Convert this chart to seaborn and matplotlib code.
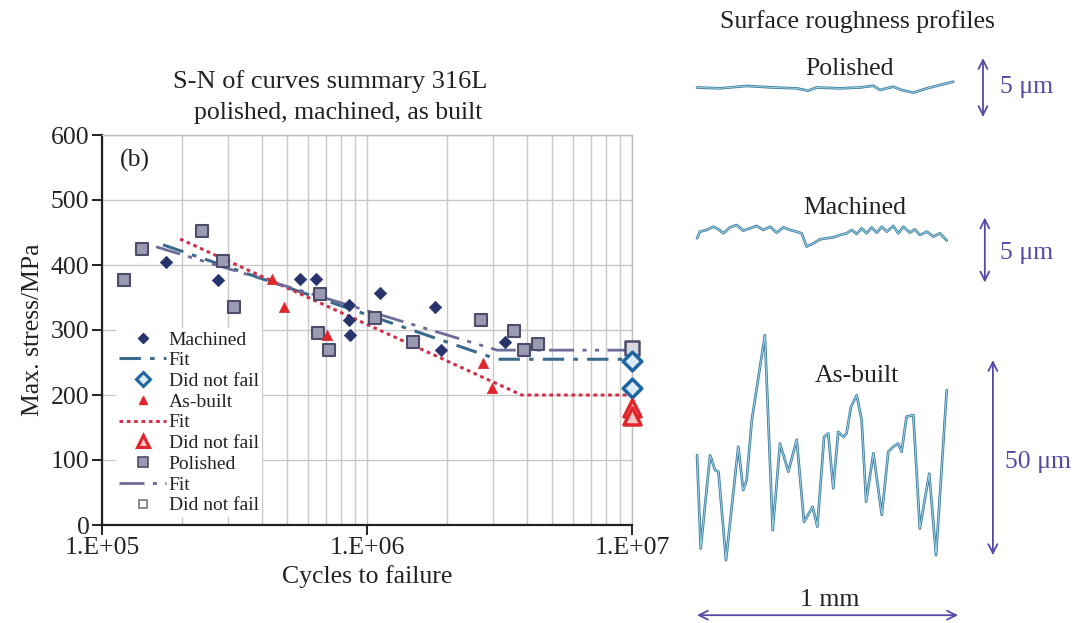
import numpy as np
import pandas as pd
import matplotlib
matplotlib.use("Agg")
import matplotlib.pyplot as plt
from matplotlib.ticker import LogLocator, FuncFormatter, MultipleLocator
from matplotlib.lines import Line2D
import seaborn as sns

# ---------------- S-N data (cycles, MPa) ----------------
machined_N = [1.75e5, 2.75e5, 5.57e5, 6.41e5, 8.55e5, 8.55e5, 8.6e5, 1.12e6, 1.81e6, 1.90e6, 3.33e6]
machined_S = [405, 377, 379, 379, 339, 316, 293, 357, 336, 270, 282]
machined_dnf_N = [1.0e7, 1.0e7]
machined_dnf_S = [252, 211]

asbuilt_N = [4.37e5, 4.85e5, 7.05e5, 2.75e6, 2.95e6]
asbuilt_S = [379, 336, 293, 250, 211]
asbuilt_dnf_N = [1.0e7, 1.0e7]
asbuilt_dnf_S = [180, 168]

polished_N = [1.21e5, 1.42e5, 2.39e5, 2.85e5, 3.16e5, 6.52e5, 6.64e5, 7.18e5,
              1.07e6, 1.49e6, 2.70e6, 3.60e6, 3.90e6, 4.40e6]
polished_S = [377, 424, 452, 406, 336, 295, 356, 269, 318, 282, 316, 298, 269, 278]
polished_dnf_N = [1.0e7]
polished_dnf_S = [272]

# fitted curves (knee + endurance plateau)
machined_fit_N = [1.7e5, 3.1e6, 1.0e7]
machined_fit_S = [431, 255, 255]
asbuilt_fit_N = [1.97e5, 3.83e6, 1.0e7]
asbuilt_fit_S = [440, 200, 200]
polished_fit_N = [1.6e5, 3.1e6, 1.0e7]
polished_fit_S = [428, 269, 269]

# ---------------- roughness profiles (mm, um) ----------------
pol_x = [0.0, 0.088, 0.19, 0.292, 0.382, 0.426, 0.458, 0.548, 0.625, 0.676,
         0.701, 0.752, 0.784, 0.829, 0.881, 0.931, 0.982]
pol_h = [0.0, -0.07, 0.13, 0.0, -0.07, -0.27, 0.0, -0.07, 0.0, 0.15,
         -0.21, 0.07, -0.21, -0.44, -0.07, 0.21, 0.49]

mach_x = [0.0, 0.011, 0.037, 0.063, 0.082, 0.101, 0.126, 0.152, 0.177, 0.203,
          0.229, 0.254, 0.28, 0.305, 0.331, 0.356, 0.382, 0.401, 0.42, 0.446,
          0.471, 0.497, 0.522, 0.548, 0.573, 0.593, 0.612, 0.631, 0.65, 0.669,
          0.689, 0.708, 0.727, 0.752, 0.771, 0.791, 0.816, 0.835, 0.854, 0.881,
          0.906, 0.931, 0.957]
mach_h = [0.90, 1.41, 1.54, 1.79, 1.59, 1.28, 1.74, 1.92, 1.49, 1.67,
          1.85, 1.54, 1.79, 1.33, 1.74, 1.54, 1.41, 1.28, 0.26, 0.51,
          0.82, 0.90, 0.97, 1.15, 1.28, 1.54, 1.23, 1.67, 1.28, 1.74,
          1.33, 1.79, 1.41, 1.85, 1.28, 1.79, 1.33, 1.59, 1.15, 1.41,
          1.03, 1.28, 0.72]

ab_x = [0.0, 0.014, 0.05, 0.069, 0.082, 0.111, 0.158, 0.177, 0.19, 0.21,
        0.26, 0.29, 0.318, 0.35, 0.382, 0.41, 0.443, 0.461, 0.487, 0.503,
        0.522, 0.541, 0.561, 0.573, 0.59, 0.612, 0.631, 0.648, 0.676, 0.708,
        0.733, 0.752, 0.771, 0.784, 0.803, 0.829, 0.854, 0.89, 0.916, 0.957]
ab_h = [25.6, 1.7, 25.6, 21.8, 21.4, -1.3, 27.8, 16.7, 19.2, 34.6,
        56.4, 6.4, 28.6, 21.4, 29.6, 8.5, 12.4, 7.3, 30.3, 31.2,
        17.1, 31.6, 30.3, 31.2, 38.0, 41.0, 34.6, 13.7, 26.1, 10.3,
        26.5, 27.8, 28.6, 26.5, 35.5, 35.9, 6.8, 20.9, 0.0, 42.3]

sns.set_theme(style="white")
plt.rcParams["font.family"] = ["Liberation Serif", "DejaVu Serif"]

W, H = 1090, 623
fig = plt.figure(figsize=(W / 100, H / 100), dpi=100)
fig.patch.set_facecolor("white")


def box(l, t, r, b):
    return [l / W, 1 - b / H, (r - l) / W, (b - t) / H]


TXT = "#222222"
ARROW = "#5549a6"
FS = 18.5

# ---------------- S-N chart ----------------
ax = fig.add_axes(box(102, 135, 632, 525))
ax.set_xscale("log")
ax.set_xlim(1e5, 1e7)
ax.set_ylim(0, 600)

c_mach = "#27336b"
c_mach_fit = "#3b6a8c"
c_mach_dnf = "#1f64a3"
c_ab = "#e0262b"
c_ab_fit = "#d2304a"
c_pol_face = "#9a9ab2"
c_pol_edge = "#4d4d6b"
c_pol_fit = "#6c6c98"

sns.lineplot(x=machined_fit_N, y=machined_fit_S, ax=ax, color=c_mach_fit, lw=2.2,
             linestyle=(0, (7, 3, 1.5, 3)), zorder=3)
sns.lineplot(x=asbuilt_fit_N, y=asbuilt_fit_S, ax=ax, color=c_ab_fit, lw=2.2,
             linestyle=(0, (1.2, 1.2)), zorder=3)
sns.lineplot(x=polished_fit_N, y=polished_fit_S, ax=ax, color=c_pol_fit, lw=2.0,
             linestyle=(0, (9, 3, 1.5, 3, 1.5, 3)), zorder=3)

sns.scatterplot(x=polished_N, y=polished_S, ax=ax, marker="s", s=75,
                color=c_pol_face, edgecolor=c_pol_edge, linewidth=1.5, zorder=4)
sns.scatterplot(x=polished_dnf_N, y=polished_dnf_S, ax=ax, marker="s", s=95,
                color="#d8d8e0", edgecolor=c_pol_edge, linewidth=1.8, zorder=5,
                clip_on=False)
sns.scatterplot(x=machined_N, y=machined_S, ax=ax, marker="D", s=40,
                color=c_mach, edgecolor=c_mach, linewidth=0.5, zorder=5)
sns.scatterplot(x=machined_dnf_N, y=machined_dnf_S, ax=ax, marker="D", s=90,
                color="#d9ecf7", edgecolor=c_mach_dnf, linewidth=2.5, zorder=6,
                clip_on=False)
sns.scatterplot(x=asbuilt_N, y=asbuilt_S, ax=ax, marker="^", s=55,
                color=c_ab, edgecolor=c_ab, linewidth=0.5, zorder=5)
sns.scatterplot(x=asbuilt_dnf_N, y=asbuilt_dnf_S, ax=ax, marker="^", s=150,
                color="#f6c9c9", edgecolor=c_ab, linewidth=2.5, zorder=6,
                clip_on=False)

ax.xaxis.set_major_locator(LogLocator(base=10, numticks=10))
ax.xaxis.set_minor_locator(LogLocator(base=10, subs=range(2, 10), numticks=20))
ax.xaxis.set_major_formatter(FuncFormatter(lambda v, p: "1.E+%02d" % int(round(np.log10(v)))))
ax.xaxis.set_minor_formatter(FuncFormatter(lambda v, p: ""))
ax.yaxis.set_major_locator(MultipleLocator(100))
ax.grid(True, which="both", axis="x", color="#c9c9c9", lw=1.0, zorder=0)
ax.grid(True, which="major", axis="y", color="#c9c9c9", lw=1.0, zorder=0)
ax.set_axisbelow(True)
for side in ("top", "right"):
    ax.spines[side].set_color("#bdbdbd")
    ax.spines[side].set_linewidth(1.0)
for side in ("left", "bottom"):
    ax.spines[side].set_color("#222222")
    ax.spines[side].set_linewidth(1.6)
ax.tick_params(axis="both", which="major", direction="out", length=7, width=1.4,
               color="#222222", labelsize=FS, labelcolor=TXT, pad=2,
               left=True, bottom=True)
ax.tick_params(axis="both", which="minor", length=0)
ax.set_xlabel("Cycles to failure", fontsize=FS, color=TXT, labelpad=4)
ax.set_ylabel("Max. stress/MPa", fontsize=FS, color=TXT, labelpad=5)
ax.text(0.034, 0.936, "(b)", transform=ax.transAxes, fontsize=FS, color=TXT,
        ha="left", va="center")

handles = [
    Line2D([], [], ls="none", marker="D", ms=5, color=c_mach),
    Line2D([], [], color=c_mach_fit, lw=2.2, ls=(0, (7, 3, 1.5, 3))),
    Line2D([], [], ls="none", marker="D", ms=7, mfc="#d9ecf7", mec=c_mach_dnf, mew=2.2),
    Line2D([], [], ls="none", marker="^", ms=6, color=c_ab),
    Line2D([], [], color=c_ab_fit, lw=2.2, ls=(0, (1.2, 1.2))),
    Line2D([], [], ls="none", marker="^", ms=8, mfc="#f6c9c9", mec=c_ab, mew=2.2),
    Line2D([], [], ls="none", marker="s", ms=7, mfc=c_pol_face, mec=c_pol_edge, mew=1.2),
    Line2D([], [], color=c_pol_fit, lw=2.0, ls=(0, (9, 3, 1.5, 3, 1.5, 3))),
    Line2D([], [], ls="none", marker="s", ms=6, mfc="white", mec="#777788", mew=1.2),
]
labels = ["Machined", "Fit", "Did not fail", "As-built", "Fit", "Did not fail",
          "Polished", "Fit", "Did not fail"]
leg = ax.legend(handles, labels, loc="upper left", bbox_to_anchor=(0.027, 0.505),
                fontsize=14, frameon=True, facecolor="white", edgecolor="none",
                framealpha=1.0, handlelength=2.4, handletextpad=0.15,
                labelspacing=0.16, borderpad=0.15, borderaxespad=0.0)
for t in leg.get_texts():
    t.set_color(TXT)

fig.text(330 / W, 1 - 82 / H, "S-N of curves summary 316L", ha="center", va="center",
         fontsize=19, color=TXT)
fig.text(338 / W, 1 - 113 / H, "polished, machined, as built", ha="center", va="center",
         fontsize=FS, color=TXT)

# ---------------- roughness profiles ----------------
fig.text(857 / W, 1 - 22 / H, "Surface roughness profiles", ha="center", va="center",
         fontsize=FS, color=TXT)


def profile_axes(rect, ylim):
    a = fig.add_axes(rect)
    a.set_xlim(-0.027, 1.487)
    a.set_ylim(*ylim)
    a.axis("off")
    return a


def draw_profile(a, xs, hs):
    df = pd.DataFrame({"x": xs, "h": hs})
    sns.lineplot(data=df, x="x", y="h", ax=a, sort=False, estimator=None,
                 color="#3d7a98", lw=1.9)
    sns.lineplot(data=df, x="x", y="h", ax=a, sort=False, estimator=None,
                 color="#9fd6ee", lw=0.7)


def v_arrow(a, x, y0, y1):
    a.annotate("", xy=(x, y0), xytext=(x, y1),
               arrowprops=dict(arrowstyle="<->", color=ARROW, lw=1.3,
                               mutation_scale=16, shrinkA=0, shrinkB=0))


ap = profile_axes(box(690, 40, 1085, 135), (-4.03, 4.03))
draw_profile(ap, pol_x, pol_h)
ap.text(0.586, 1.6, "Polished", ha="center", va="center", fontsize=FS, color=TXT)
v_arrow(ap, 1.096, -2.5, 2.5)
ap.text(1.16, 0.0, "5 μm", ha="left", va="center", fontsize=FS, color=ARROW)

am = profile_axes(box(690, 195, 1085, 300), (-3.85, 4.23))
draw_profile(am, mach_x, mach_h)
am.text(0.605, 3.2, "Machined", ha="center", va="center", fontsize=FS, color=TXT)
v_arrow(am, 1.103, -2.5, 2.5)
am.text(1.16, -0.2, "5 μm", ha="left", va="center", fontsize=FS, color=ARROW)

aa = profile_axes(box(690, 325, 1085, 623), (-17.4, 59.0))
draw_profile(aa, ab_x, ab_h)
aa.text(0.613, 45.9, "As-built", ha="center", va="center", fontsize=FS, color=TXT)
v_arrow(aa, 1.134, 0.0, 50.0)
aa.text(1.18, 23.8, "50 μm", ha="left", va="center", fontsize=FS, color=ARROW)
aa.annotate("", xy=(0.0, -15.4), xytext=(1.0, -15.4),
            arrowprops=dict(arrowstyle="<->", color=ARROW, lw=1.3,
                            mutation_scale=16, shrinkA=0, shrinkB=0))
aa.text(0.51, -11.5, "1 mm", ha="center", va="center", fontsize=FS, color=TXT)

fig.savefig("out.png", dpi=100, facecolor="white")
